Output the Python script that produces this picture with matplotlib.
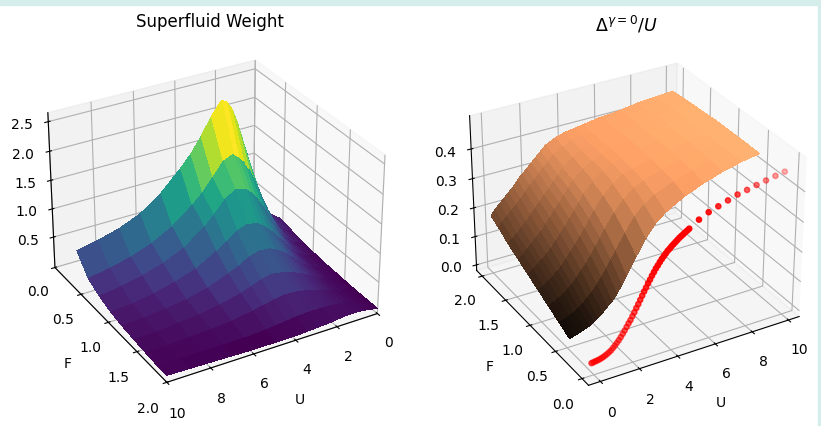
import numpy as np
import matplotlib
matplotlib.use("Agg")
import matplotlib.pyplot as plt
from matplotlib.patches import Rectangle

u_vals = [0, .25, .5, .75, 1, 1.25, 1.5, 1.75, 2, 2.25, 2.5, 2.75, 3, 3.5, 4, 4.5, 5, 6, 7, 8, 9, 10]
f_vals = [.45, .65, .85, 1.05, 1.25, 1.45, 1.65, 1.85, 2.0]

weight = [
    [.2, .26, .33, .45, .65, .9, 1.2, 1.55, 1.85, 2.15, 2.38, 2.52, 2.58, 2.35, 2.05, 1.8, 1.6, 1.25, 1.0, .85, .75, .68],
    [.15, .19, .25, .33, .48, .66, .86, 1.08, 1.3, 1.5, 1.65, 1.75, 1.82, 1.74, 1.52, 1.3, 1.13, .85, .66, .53, .44, .38],
    [.1, .14, .18, .25, .34, .46, .6, .76, .92, 1.07, 1.2, 1.3, 1.38, 1.42, 1.3, 1.1, .92, .66, .5, .39, .31, .26],
    [.08, .1, .13, .17, .23, .31, .41, .52, .63, .73, .82, .9, .96, 1.0, .93, .8, .68, .48, .36, .27, .21, .18],
    [.06, .08, .1, .13, .18, .24, .31, .39, .47, .55, .61, .67, .7, .72, .66, .56, .48, .34, .25, .2, .16, .14],
    [.05, .07, .09, .11, .15, .19, .24, .29, .34, .38, .42, .45, .47, .5, .46, .39, .33, .24, .18, .15, .12, .11],
    [.04, .06, .08, .1, .12, .15, .18, .21, .24, .27, .29, .31, .32, .33, .3, .26, .22, .16, .13, .11, .09, .09],
    [.04, .05, .07, .09, .11, .13, .14, .15, .16, .16, .16, .16, .16, .15, .13, .11, .09, .07, .07, .07, .07, .07],
    [.04, .06, .08, .09, .1, .1, .1, .09, .08, .07, .06, .06, .05, .04, .03, .03, .03, .03, .04, .05, .06, .07],
]

gap = [
    [.02, .025, .03, .035, .042, .05, .062, .075, .09, .105, .125, .15, .175, .23, .28, .32, .345, .38, .405, .425, .44, .45],
    [.04, .045, .05, .058, .068, .08, .095, .11, .13, .15, .175, .2, .225, .275, .32, .35, .37, .395, .415, .43, .44, .45],
    [.06, .068, .076, .086, .098, .112, .13, .148, .168, .19, .215, .24, .265, .31, .345, .37, .385, .405, .42, .43, .44, .45],
    [.08, .09, .1, .112, .125, .14, .16, .18, .2, .222, .245, .27, .295, .335, .365, .385, .395, .41, .425, .435, .44, .45],
    [.1, .112, .125, .138, .152, .168, .188, .208, .228, .25, .272, .295, .318, .35, .375, .39, .4, .415, .425, .435, .44, .45],
    [.12, .132, .146, .16, .176, .192, .212, .232, .252, .272, .293, .314, .335, .36, .38, .392, .402, .415, .425, .435, .44, .447],
    [.14, .154, .168, .184, .2, .217, .236, .254, .272, .29, .308, .327, .347, .37, .385, .395, .403, .415, .425, .433, .44, .445],
    [.165, .18, .195, .21, .226, .242, .26, .277, .294, .31, .325, .342, .358, .378, .39, .398, .404, .415, .423, .431, .437, .442],
    [.18, .2, .215, .23, .245, .26, .28, .295, .31, .325, .34, .355, .37, .385, .395, .4, .405, .415, .42, .43, .435, .44],
]

red_u = [0, .1, .2, .3, .4, .5, .6, .7, .8, .9, 1.0, 1.1, 1.2, 1.3, 1.4, 1.5, 1.6, 1.7, 1.8, 1.9,
         2.0, 2.1, 2.2, 2.3, 2.4, 2.5, 2.6, 2.7, 2.8, 2.9, 3.0, 3.1, 3.2, 3.3, 3.4, 3.5, 3.6, 3.7, 3.8, 3.9,
         4.0, 4.1, 4.2, 4.3, 4.4, 4.5, 4.6, 4.7, 4.8, 4.9, 5.0,
         5.5, 6, 6.5, 7, 7.5, 8, 8.5, 9, 9.5, 10]
red_z = [.012, .013, .014, .015, .016, .018, .02, .023, .026, .03, .034, .04, .046, .053, .06, .068, .077, .086, .096, .106,
         .115, .126, .137, .149, .16, .172, .184, .196, .207, .219, .229, .24, .25, .26, .268, .277, .285, .292, .299, .306,
         .311, .317, .322, .327, .332, .337, .341, .345, .349, .353, .357,
         .377, .392, .402, .412, .422, .428, .435, .441, .447, .452]
red_f = 0.04

f_ticks = [0.0, .5, 1.0, 1.5, 2.0]
z_ticks_left = [.5, 1.0, 1.5, 2.0, 2.5]
z_ticks_right = [0.0, .1, .2, .3, .4]

plt.rcParams["font.size"] = 10

fig = plt.figure(figsize=(8.21, 4.26), dpi=100)
fig.patches.append(Rectangle((0, 0.989), 1, 0.011, transform=fig.transFigure, color="#d5eeeb"))
fig.patches.append(Rectangle((0.9965, 0), 0.0035, 1, transform=fig.transFigure, color="#d5eeeb"))

U, F = np.meshgrid(u_vals, f_vals)

ax1 = fig.add_axes([0.025, 0.047, 0.457, 0.88], projection="3d")
ax1.plot_surface(U, F, np.array(weight), cmap="viridis", rstride=1, cstride=1, linewidth=0, antialiased=False)
ax1.view_init(elev=30, azim=60)
ax1.set_xlim(0, 10)
ax1.set_ylim(0, 2)
ax1.set_zlim(-0.05, 2.65)
ax1.set_yticks(f_ticks)
ax1.set_zticks(z_ticks_left)
ax1.set_xlabel("U", labelpad=6)
ax1.set_ylabel("F", labelpad=6)
ax1.tick_params(axis="x", pad=4)
ax1.tick_params(axis="y", pad=4)
ax1.set_title("Superfluid Weight", fontsize=12, x=0.505, y=1.075)

ax2 = fig.add_axes([0.5387, 0.04, 0.457, 0.88], projection="3d")
ax2.plot_surface(U, F, np.array(gap), cmap="copper", vmin=0, vmax=0.5, rstride=1, cstride=1, linewidth=0, antialiased=False)
ax2.scatter(red_u, [red_f] * len(red_u), red_z, c="red", s=14)
ax2.view_init(elev=30, azim=-120)
ax2.set_xlim(-0.6, 10.6)
ax2.set_ylim(-0.12, 2.12)
ax2.set_zlim(-0.02, 0.51)
ax2.set_yticks(f_ticks)
ax2.set_zticks(z_ticks_right)
ax2.set_xlabel("U", labelpad=6)
ax2.set_ylabel("F", labelpad=6)
ax2.tick_params(axis="x", pad=4)
ax2.tick_params(axis="y", pad=4)
ax2.set_title(r"$\Delta^{\gamma=0}/U$", fontsize=12.5, x=0.49, y=1.071)

fig.savefig("out.png", dpi=100)
